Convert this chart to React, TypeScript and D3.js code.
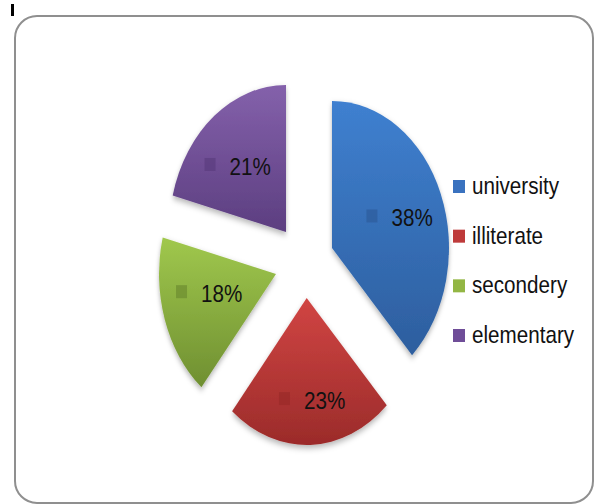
import React from "react";
import * as d3 from "d3";

const categories = ["university", "illiterate", "secondery", "elementary"];
const values = [38, 23, 18, 21];
const valueLabels = ["38%", "23%", "18%", "21%"];

// styling / layout
const W = 595, H = 504;
const CX = 305, CY = 261;
const RX = 117, RY = 147;
const explode: [number, number][] = [[27, -13], [1.7, 37], [-29, 13], [-19, -29]];
const labelNudge: [number, number][] = [[0, 3], [3, 11], [2, -9], [-4, 6]];
const gradTop = ["#3F80D0", "#D14543", "#A0C84D", "#8461AB"];
const gradBottom = ["#2D5E9E", "#9B2B2A", "#6F8F31", "#5C3E80"];
const legendColors = ["#3A72BF", "#BE3A3A", "#93B644", "#6F4D98"];
const FONT = "'Liberation Sans', Arial, sans-serif";
const SX = 0.86;

export default function App() {
  const pie = d3.pie<number>().sort(null).startAngle(0).endAngle(2 * Math.PI);
  const arcs = pie(values);
  const arcGen = d3.arc<d3.PieArcDatum<number>>().innerRadius(0).outerRadius(RY);
  const legendY = d3.scalePoint<string>().domain(categories).range([186, 335]);

  return (
    <svg width={W} height={H} style={{ position: "absolute", left: 0, top: 0 }}>
      <defs>
        {categories.map((c, i) => (
          <linearGradient key={c} id={`g${i}`} x1="0" y1="0" x2="0" y2="1">
            <stop offset="0" stopColor={gradTop[i]} />
            <stop offset="1" stopColor={gradBottom[i]} />
          </linearGradient>
        ))}
        <filter id="sh" x="-20%" y="-20%" width="140%" height="150%">
          <feDropShadow dx="0" dy="3" stdDeviation="3" floodColor="#000" floodOpacity="0.3" />
        </filter>
      </defs>
      <rect x={0} y={0} width={W} height={H} fill="#fff" />
      <rect x={11} y={4} width={3} height={12} fill="#000" />
      <rect x={15} y={16} width={578} height={487} rx={22} ry={22} fill="#fff" stroke="#8f8f8f" strokeWidth={2} />
      {arcs.map((a, i) => {
        const [ox, oy] = explode[i];
        return (
          <g key={i} transform={`translate(${CX + ox},${CY + oy}) scale(${RX / RY},1)`}>
            <path d={arcGen(a) || ""} fill={`url(#g${i})`} filter="url(#sh)" />
          </g>
        );
      })}
      {arcs.map((a, i) => {
        const [ox, oy] = explode[i];
        const m = (a.startAngle + a.endAngle) / 2;
        const f = 0.62;
        const lx = CX + ox + Math.sin(m) * RX * f + labelNudge[i][0];
        const ly = CY + oy - Math.cos(m) * RY * f + labelNudge[i][1];
        const left = lx - 33;
        return (
          <g key={`l${i}`}>
            <rect x={left} y={ly - 8} width={11} height={13} fill={gradBottom[i]} opacity={0.75} />
            <text transform={`translate(${left + 25},${ly + 9}) scale(${SX},1)`} fontFamily={FONT} fontSize={24} fill="#111">
              {valueLabels[i]}
            </text>
          </g>
        );
      })}
      {categories.map((c, i) => {
        const y = legendY(c)!;
        return (
          <g key={`lg${i}`}>
            <rect x={453} y={y - 6} width={12} height={13} fill={legendColors[i]} />
            <text transform={`translate(472,${y + 8}) scale(${SX},1)`} fontFamily={FONT} fontSize={24} fill="#111">
              {c}
            </text>
          </g>
        );
      })}
    </svg>
  );
}
